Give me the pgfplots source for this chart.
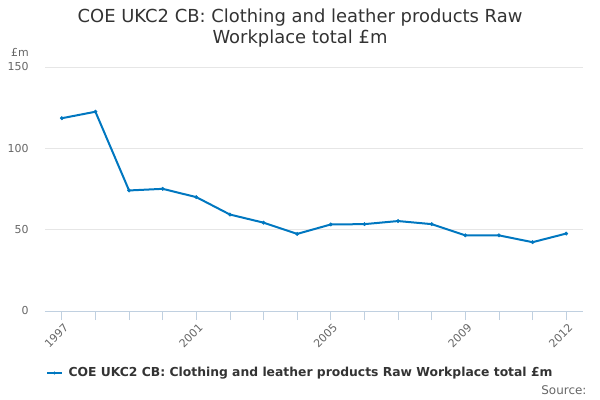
\documentclass[border=0pt]{standalone}
\usepackage{fontspec}
\setmainfont{DejaVu Sans}
\usepackage{pgfplots}
\pgfplotsset{compat=1.18}
\definecolor{series}{RGB}{0,119,192}
\definecolor{gridc}{RGB}{230,230,230}
\definecolor{axisc}{RGB}{192,208,224}
\definecolor{textc}{RGB}{102,102,102}
\definecolor{titlec}{RGB}{51,51,51}

\begin{document}
\begin{tikzpicture}
\useasboundingbox (-45bp,-89bp) rectangle (555bp,311bp);
\begin{axis}[
    at={(0,0)}, anchor=south west,
    scale only axis,
    width=538bp, height=244bp,
    xmin=1996.5, xmax=2012.5,
    ymin=0, ymax=150,
    xtick={1997,2001,2005,2009,2012},
    xticklabels={1997,2001,2005,2009,2012},
    minor xtick={1998,1999,2000,2002,2003,2004,2006,2007,2008,2010,2011},
    ytick={0,50,100,150},
    ymajorgrids=true,
    grid style={gridc, line width=0.8pt},
    axis x line*=bottom,
    axis y line*=left,
    y axis line style={draw=none},
    x axis line style={axisc, line width=0.8pt, -},
    xtick style={axisc, line width=0.8pt},
    minor x tick style={axisc, line width=0.8pt},
    ytick style={draw=none},
    tick align=outside,
    major tick length=9bp,
    minor tick length=9bp,
    x tick label style={rotate=45, anchor=north east, font=\fontsize{11}{13}\selectfont, text=textc, inner sep=1bp, yshift=-2bp},
    y tick label style={font=\fontsize{11}{13}\selectfont, text=textc},
    yticklabel style={xshift=-4bp},
    /pgf/number format/assume math mode=true,
    clip=false,
]
\addplot[series, line width=2bp, mark=*, mark size=1.7bp, mark options={series, line width=0.5bp}] coordinates {
    (1997,118.5) (1998,122.5) (1999,74.1) (2000,75.1) (2001,70.0)
    (2002,59.3) (2003,54.3) (2004,47.4) (2005,53.2) (2006,53.4)
    (2007,55.3) (2008,53.4) (2009,46.5) (2010,46.5) (2011,42.3)
    (2012,47.6)
};
\end{axis}
% title
\node[align=center, text=titlec, font=\fontsize{18}{21}\selectfont] at (255bp,283bp)
  {COE UKC2 CB: Clothing and leather products Raw\\Workplace total £m};
% y unit
\node[text=textc, font=\fontsize{11}{13}\selectfont] at (-25bp,259bp) {£m};
% legend
\draw[series, line width=2bp] (2bp,-62bp) -- (17bp,-62bp);
\fill[series] (9.5bp,-62bp) circle (1.7bp);
\node[anchor=west, text=titlec, font=\bfseries\fontsize{12.4}{14}\selectfont] at (20bp,-62bp)
  {COE UKC2 CB: Clothing and leather products Raw Workplace total £m};
% source
\node[anchor=east, text=textc, font=\fontsize{12}{14}\selectfont] at (545bp,-79bp) {Source:};
\end{tikzpicture}
\end{document}
